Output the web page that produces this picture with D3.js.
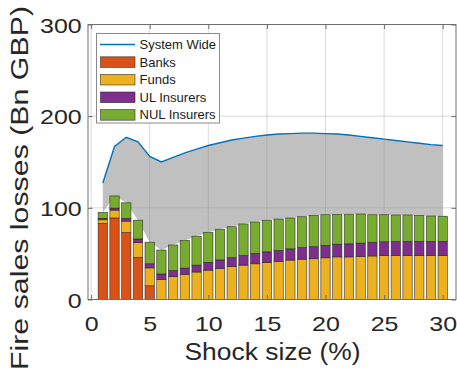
<!DOCTYPE html>
<html>
<head>
<meta charset="utf-8">
<script src="https://cdn.jsdelivr.net/npm/d3@7"></script>
<style>
  html, body { margin: 0; padding: 0; background: #fff; }
  svg { display: block; }
  text { font-family: "Liberation Sans", Arial, Helvetica, sans-serif; }
</style>
</head>
<body>
<svg id="chart" width="457" height="376"></svg>
<script>
// Fire-sale losses by sector for each shock size (Bn GBP)
const shock = [1, 2, 3, 4, 5, 6, 7, 8, 9, 10, 11, 12, 13, 14, 15,
               16, 17, 18, 19, 20, 21, 22, 23, 24, 25, 26, 27, 28, 29, 30];
const banks = [83, 89, 73, 46, 15, 0, 0, 0, 0, 0, 0, 0, 0, 0, 0,
               0, 0, 0, 0, 0, 0, 0, 0, 0, 0, 0, 0, 0, 0, 0];
const funds = [4, 8.5, 12.5, 16, 19.5, 22, 25, 27.5, 30, 32, 34, 36, 37.5, 39, 40.5,
               41.5, 43, 44, 44.5, 45.5, 46.5, 46.5, 47, 47.5, 48, 48, 48, 48, 48, 48];
const ulInsurers = [1.5, 2.2, 3, 4, 4.5, 5.8, 6.5, 6.8, 7.5, 8.5, 9.2, 9.6, 10.5, 11.2, 11.5,
                    12, 12.3, 12.6, 13.1, 13.5, 13.8, 14.2, 14.5, 14.9, 15, 15.2, 15.3, 15.4, 15.4, 15.4];
const nulInsurers = [6.5, 13.3, 17, 20.5, 23.5, 26.2, 28, 30.2, 31.5, 32.8, 33.4, 33.8, 34.4, 34.3, 34.4,
                     34.3, 33.6, 33.7, 34.2, 33.5, 32.6, 32.3, 31.8, 30.1, 29.5, 29, 28.9, 28.4, 27.7, 27.4];
const systemWide = [127, 167, 177, 172, 156, 150, 155, 160, 164, 168, 171, 174, 176, 178, 179.5,
                    180.5, 181, 181.5, 181.5, 181, 180.5, 179.5, 178, 176.5, 175, 173.5, 172, 170.5, 169, 168];

const seriesNames = ["Banks", "Funds", "UL Insurers", "NUL Insurers"];
const seriesColors = ["#D95319", "#EDB120", "#7E2F8E", "#77AC30"];
const lineName = "System Wide";
const xTicks = [0, 5, 10, 15, 20, 25, 30];
const yTicks = [0, 100, 200, 300];
const xTitle = "Shock size (%)";
const yTitle = "Fire sales losses (Bn GBP)";

const svg = d3.select("#chart");
const box = { left: 88, right: 456, top: 24.5, bottom: 299.5 };
const x = d3.scaleLinear().domain([0, 30]).range([91.1, 442.7]);
const y = d3.scaleLinear().domain([0, 300]).range([box.bottom, box.top]);
const barW = 0.8 * (x(1) - x(0));

// table for the stack
const table = shock.map((s, i) => ({
  shock: s,
  "Banks": banks[i],
  "Funds": funds[i],
  "UL Insurers": ulInsurers[i],
  "NUL Insurers": nulInsurers[i],
  system: systemWide[i]
}));
const stacked = d3.stack().keys(seriesNames)(table);
const totals = table.map(d => seriesNames.reduce((a, k) => a + d[k], 0));

// grid
const grid = svg.append("g").attr("stroke", "#000").attr("stroke-opacity", 0.15).attr("stroke-width", 1);
xTicks.forEach(t => grid.append("line")
  .attr("x1", x(t)).attr("x2", x(t)).attr("y1", box.top).attr("y2", box.bottom));
yTicks.filter(t => t > 0 && t < 300).forEach(t => grid.append("line")
  .attr("x1", box.left).attr("x2", box.right).attr("y1", y(t)).attr("y2", y(t)));

// shaded band between sector total and system-wide losses
const band = d3.area()
  .x((d, i) => x(d.shock))
  .y0((d, i) => y(totals[i]))
  .y1(d => y(d.system));
svg.append("path").datum(table)
  .attr("d", band)
  .attr("fill", "#8c8c8c")
  .attr("fill-opacity", 0.55);

// stacked bars
svg.append("g").selectAll("g")
  .data(stacked)
  .join("g")
  .attr("fill", (d, i) => seriesColors[i])
  .selectAll("rect")
  .data(d => d)
  .join("rect")
  .attr("x", d => x(d.data.shock) - barW / 2)
  .attr("width", barW)
  .attr("y", d => y(d[1]))
  .attr("height", d => Math.max(0, y(d[0]) - y(d[1])))
  .attr("stroke", "#1e1e1e")
  .attr("stroke-opacity", 0.75)
  .attr("stroke-width", 0.7);

// system-wide line
svg.append("path").datum(table)
  .attr("d", d3.line().x(d => x(d.shock)).y(d => y(d.system)))
  .attr("fill", "none")
  .attr("stroke", "#0072BD")
  .attr("stroke-width", 1.4);

// axes
const axisColor = "#6e6e6e";
const textColor = "#262626";
const tickFont = 21;
const digitW = 13.9;

const gx = svg.append("g").attr("transform", `translate(0,${box.bottom})`)
  .call(d3.axisBottom(x).tickValues(xTicks).tickSizeInner(-4.5).tickSizeOuter(0).tickPadding(17));
const gy = svg.append("g").attr("transform", `translate(${box.left},0)`)
  .call(d3.axisLeft(y).tickValues(yTicks).tickSizeInner(-4.5).tickSizeOuter(0).tickPadding(6.3));
const gxTop = svg.append("g").attr("transform", `translate(0,${box.top})`)
  .call(d3.axisTop(x).tickValues(xTicks).tickSizeInner(-4.5).tickSizeOuter(0).tickFormat(""));
const gyRight = svg.append("g").attr("transform", `translate(${box.right},0)`)
  .call(d3.axisRight(y).tickValues(yTicks).tickSizeInner(-4.5).tickSizeOuter(0).tickFormat(""));

[gx, gy, gxTop, gyRight].forEach(g => {
  g.select(".domain").remove();
  g.selectAll(".tick line").attr("stroke", axisColor);
});
[gx, gy].forEach(g => {
  g.selectAll(".tick text")
    .attr("fill", textColor)
    .attr("font-size", tickFont)
    .attr("font-family", "Liberation Sans, Arial, sans-serif")
    .attr("lengthAdjust", "spacingAndGlyphs")
    .attr("textLength", function () { return this.textContent.length * digitW; });
});
gy.selectAll(".tick text").attr("dy", "0.36em");

// axes box
svg.append("rect")
  .attr("x", box.left).attr("y", box.top)
  .attr("width", box.right - box.left).attr("height", box.bottom - box.top)
  .attr("fill", "none").attr("stroke", axisColor).attr("stroke-width", 1);

// axis titles
svg.append("text")
  .attr("x", 272.5).attr("y", 360)
  .attr("text-anchor", "middle")
  .attr("font-size", 23)
  .attr("fill", textColor)
  .attr("lengthAdjust", "spacingAndGlyphs")
  .attr("textLength", 176)
  .text(xTitle);
svg.append("text")
  .attr("transform", "translate(28.3,188) rotate(-90)")
  .attr("text-anchor", "middle")
  .attr("font-size", 23.5)
  .attr("fill", textColor)
  .attr("lengthAdjust", "spacingAndGlyphs")
  .attr("textLength", 364)
  .text(yTitle);

// legend
const lg = svg.append("g");
lg.append("rect")
  .attr("x", 96.5).attr("y", 33.5).attr("width", 123).attr("height", 89.5)
  .attr("fill", "#fff").attr("stroke", "#8a8a8a").attr("stroke-width", 1);
const rowY = i => 44.5 + i * 17.6;
lg.append("line")
  .attr("x1", 100).attr("x2", 135).attr("y1", rowY(0)).attr("y2", rowY(0))
  .attr("stroke", "#0072BD").attr("stroke-width", 1.4);
lg.append("text")
  .attr("x", 139.5).attr("y", rowY(0)).attr("dy", "0.35em")
  .attr("font-size", 13).attr("fill", "#1a1a1a").text(lineName);
seriesNames.forEach((name, i) => {
  lg.append("rect")
    .attr("x", 100.5).attr("y", rowY(i + 1) - 5.3)
    .attr("width", 34.5).attr("height", 10.6)
    .attr("fill", seriesColors[i])
    .attr("stroke", "#1e1e1e").attr("stroke-opacity", 0.75).attr("stroke-width", 0.7);
  lg.append("text")
    .attr("x", 139.5).attr("y", rowY(i + 1)).attr("dy", "0.35em")
    .attr("font-size", 13).attr("fill", "#1a1a1a").text(name);
});
</script>
</body>
</html>
